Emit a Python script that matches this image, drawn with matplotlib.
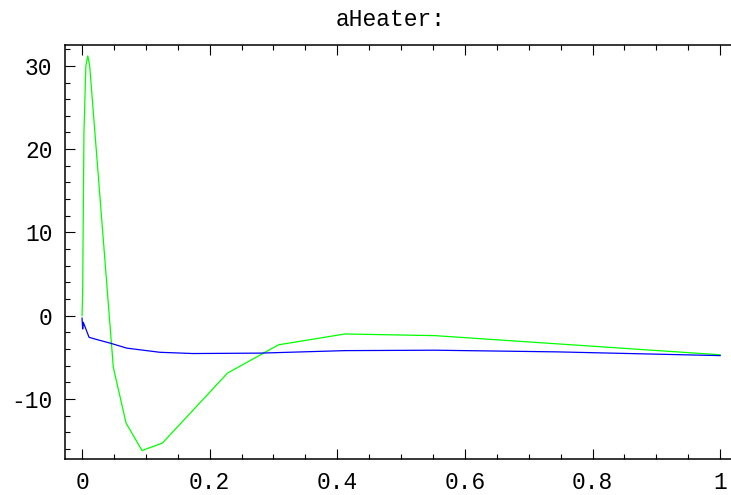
import matplotlib
matplotlib.use("Agg")
import matplotlib.pyplot as plt
from matplotlib.ticker import MultipleLocator, FixedLocator

# series
green_x = [0.0, 0.001, 0.003, 0.006, 0.009, 0.012, 0.049, 0.069, 0.094, 0.126,
           0.228, 0.308, 0.412, 0.553, 1.0]
green_y = [0.0, 3.0, 22.0, 30.0, 31.2, 30.0, -6.2, -12.9, -16.2, -15.3,
           -6.9, -3.5, -2.2, -2.4, -4.7]

blue_x = [0.0, 0.001, 0.002, 0.011, 0.020, 0.044, 0.070, 0.122, 0.174, 0.279,
          0.412, 0.553, 0.744, 1.0]
blue_y = [-0.3, -1.6, -0.8, -2.6, -2.8, -3.3, -3.9, -4.4, -4.55, -4.5,
          -4.2, -4.15, -4.35, -4.8]

x_ticks = [0, 0.2, 0.4, 0.6, 0.8, 1]
x_labels = ["0", "0.2", "0.4", "0.6", "0.8", "1"]
y_ticks = [-10, 0, 10, 20, 30]
y_labels = ["-10", "0", "10", "20", "30"]

plt.rcParams['font.family'] = ['Liberation Mono', 'DejaVu Sans Mono']

fig = plt.figure(figsize=(7.31, 4.95), dpi=100)
# right edge of the frame runs off the picture, as in the original
ax = fig.add_axes([0.089, 0.073, 0.911, 0.836])

ax.plot(green_x, green_y, color='#00ff00', lw=0.9)
ax.plot(blue_x, blue_y, color='#0000ff', lw=0.9)

ax.set_xlim(-0.0266, 1.017)
ax.set_ylim(-17.2, 32.5)

ax.xaxis.set_major_locator(FixedLocator(x_ticks))
ax.set_xticklabels(x_labels)
ax.xaxis.set_minor_locator(MultipleLocator(0.05))
ax.yaxis.set_major_locator(FixedLocator(y_ticks))
ax.set_yticklabels(y_labels)
ax.yaxis.set_minor_locator(MultipleLocator(2))

ax.spines['right'].set_visible(False)
ax.tick_params(which='both', direction='in', top=True, right=False,
               labelsize=16.5, width=0.8)
ax.tick_params(which='major', length=7, pad=9)
ax.tick_params(which='minor', length=3.5)
for s in ax.spines.values():
    s.set_linewidth(1.1)

fig.text(391 / 731, 1 - 20 / 495, "aHeater:", fontsize=16.5,
         ha='center', va='center')

fig.savefig("out.png", dpi=100)
